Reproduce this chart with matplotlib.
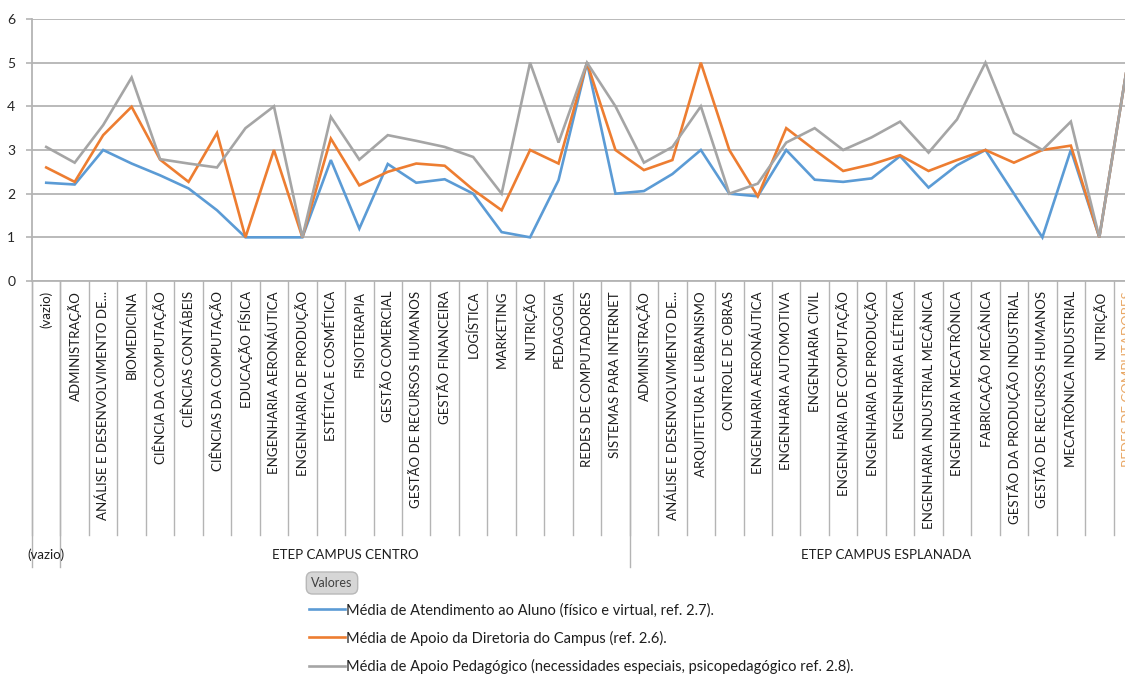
import matplotlib.pyplot as plt
from matplotlib.lines import Line2D

plt.rcParams['font.family'] = ['Lato', 'DejaVu Sans']

# categories (pivot rows: campus / course)
courses = [
    "(vazio)",
    "ADMINISTRAÇÃO", "ANÁLISE E DESENVOLVIMENTO DE...", "BIOMEDICINA",
    "CIÊNCIA DA COMPUTAÇÃO", "CIÊNCIAS CONTÁBEIS", "CIÊNCIAS DA COMPUTAÇÃO",
    "EDUCAÇÃO FÍSICA", "ENGENHARIA AERONÁUTICA", "ENGENHARIA DE PRODUÇÃO",
    "ESTÉTICA E COSMÉTICA", "FISIOTERAPIA", "GESTÃO COMERCIAL",
    "GESTÃO DE RECURSOS HUMANOS", "GESTÃO FINANCEIRA", "LOGÍSTICA",
    "MARKETING", "NUTRIÇÃO", "PEDAGOGIA", "REDES DE COMPUTADORES",
    "SISTEMAS PARA INTERNET",
    "ADMINISTRAÇÃO", "ANÁLISE E DESENVOLVIMENTO DE...", "ARQUITETURA E URBANISMO",
    "CONTROLE DE OBRAS", "ENGENHARIA AERONÁUTICA", "ENGENHARIA AUTOMOTIVA",
    "ENGENHARIA CIVIL", "ENGENHARIA DE COMPUTAÇÃO", "ENGENHARIA DE PRODUÇÃO",
    "ENGENHARIA ELÉTRICA", "ENGENHARIA INDUSTRIAL MECÂNICA",
    "ENGENHARIA MECATRÔNICA", "FABRICAÇÃO MECÂNICA",
    "GESTÃO DA PRODUÇÃO INDUSTRIAL", "GESTÃO DE RECURSOS HUMANOS",
    "MECATRÔNICA INDUSTRIAL", "NUTRIÇÃO", "REDES DE COMPUTADORES",
]
# (group label, first index, last index)
groups = [("(vazio)", 0, 0), ("ETEP CAMPUS CENTRO", 1, 20), ("ETEP CAMPUS ESPLANADA", 21, 38)]

atendimento = [2.25, 2.21, 3.0, 2.69, 2.42, 2.12, 1.62, 1.0, 1.0, 1.0, 2.77, 1.2, 2.68,
               2.25, 2.33, 2.0, 1.12, 1.0, 2.31, 5.0, 2.0, 2.06, 2.45, 3.0, 2.0, 1.94,
               3.0, 2.32, 2.27, 2.35, 2.86, 2.14, 2.65, 3.0, 2.0, 1.0, 3.0, 1.0, 5.0]
diretoria = [2.6, 2.27, 3.34, 3.99, 2.78, 2.27, 3.39, 1.0, 3.0, 1.0, 3.26, 2.19, 2.5,
             2.69, 2.64, 2.09, 1.62, 3.0, 2.69, 5.0, 3.0, 2.54, 2.77, 5.0, 3.0, 1.94,
             3.5, 3.0, 2.52, 2.67, 2.88, 2.52, 2.77, 3.0, 2.71, 3.0, 3.1, 1.0, 5.0]
pedagogico = [3.07, 2.71, 3.57, 4.66, 2.79, 2.69, 2.6, 3.5, 4.0, 1.0, 3.76, 2.78, 3.34,
              3.21, 3.07, 2.84, 2.0, 5.0, 3.17, 5.0, 4.0, 2.71, 3.07, 4.0, 2.0, 2.23,
              3.17, 3.5, 3.0, 3.29, 3.65, 2.94, 3.7, 5.0, 3.39, 3.0, 3.65, 1.0, 5.0]

series_labels = [
    "Média de Atendimento ao Aluno (físico e virtual, ref. 2.7).",
    "Média de Apoio da Diretoria do Campus (ref. 2.6).",
    "Média de Apoio Pedagógico (necessidades especiais, psicopedagógico ref. 2.8).",
]
colors = ["#5B9BD5", "#ED7D31", "#A5A5A5"]

W, H = 1125, 675
fig = plt.figure(figsize=(W / 100, H / 100), dpi=100)
# plot area in pixels: left 32, top 19, bottom 281; it runs past the right edge (cropped chart)
left, top, bottom, right = 32, 19, 281, 1142
ax = fig.add_axes([left / W, (H - bottom) / H, (right - left) / W, (bottom - top) / H])

x = list(range(len(courses)))
for vals, c in zip([atendimento, diretoria, pedagogico], colors):
    ax.plot(x, vals, color=c, lw=1.9, solid_joinstyle="miter")

ax.set_xlim(-0.5, len(courses) - 0.5)
ax.set_ylim(0, 6)
ax.set_yticks(range(7))
ax.yaxis.grid(True, color="#B4B4B4", lw=1.3)
ax.set_axisbelow(True)
ax.set_xticks([])
ax.tick_params(axis="y", length=4, color="#B4B4B4", width=1.2, pad=8,
               labelsize=10, labelcolor="#262626")
for s in ["top", "right"]:
    ax.spines[s].set_visible(False)
for s in ["left", "bottom"]:
    ax.spines[s].set_color("#B4B4B4")
    ax.spines[s].set_linewidth(1.3)

tr = ax.get_xaxis_transform()


def ya(ypix):
    # pixel row -> axes fraction
    return (bottom - ypix) / (bottom - top)


# category dividers
for i in range(len(courses) + 1):
    ax.plot([i - 0.5, i - 0.5], [0, ya(535)], transform=tr, color="#B4B4B4", lw=1.0, clip_on=False)
for name, a, b in groups:
    ax.plot([a - 0.5, a - 0.5], [0, ya(567)], transform=tr, color="#B4B4B4", lw=1.0, clip_on=False)

for i, name in enumerate(courses):
    col = "#E9A866" if i == len(courses) - 1 else "#1E1E1E"
    ax.text(i, ya(291), name, rotation=90, ha="center", va="top", fontsize=9.5,
            color=col, transform=tr, clip_on=False)

for name, a, b in groups:
    ax.text((a + b) / 2, ya(555), name, ha="center", va="center", fontsize=9.5,
            color="#1E1E1E", transform=tr, clip_on=False)

# pivot field button + legend
fig.text(332 / W, 1 - 583 / H, "Valores", ha="center", va="center", fontsize=9,
         color="#404040",
         bbox=dict(boxstyle="round,pad=0.4,rounding_size=0.5", fc="#D6D6D6", ec="#B8B8B8", lw=1))
handles = [Line2D([], [], color=c, lw=1.9) for c in colors]
fig.legend(handles, series_labels, loc="upper left", bbox_to_anchor=(309 / W, 1 - 603 / H),
           frameon=False, fontsize=10.5, handlelength=2.45, handletextpad=0.12,
           labelspacing=0.9, borderaxespad=0, borderpad=0, labelcolor="#1E1E1E")

fig.savefig("out.png", dpi=100)
